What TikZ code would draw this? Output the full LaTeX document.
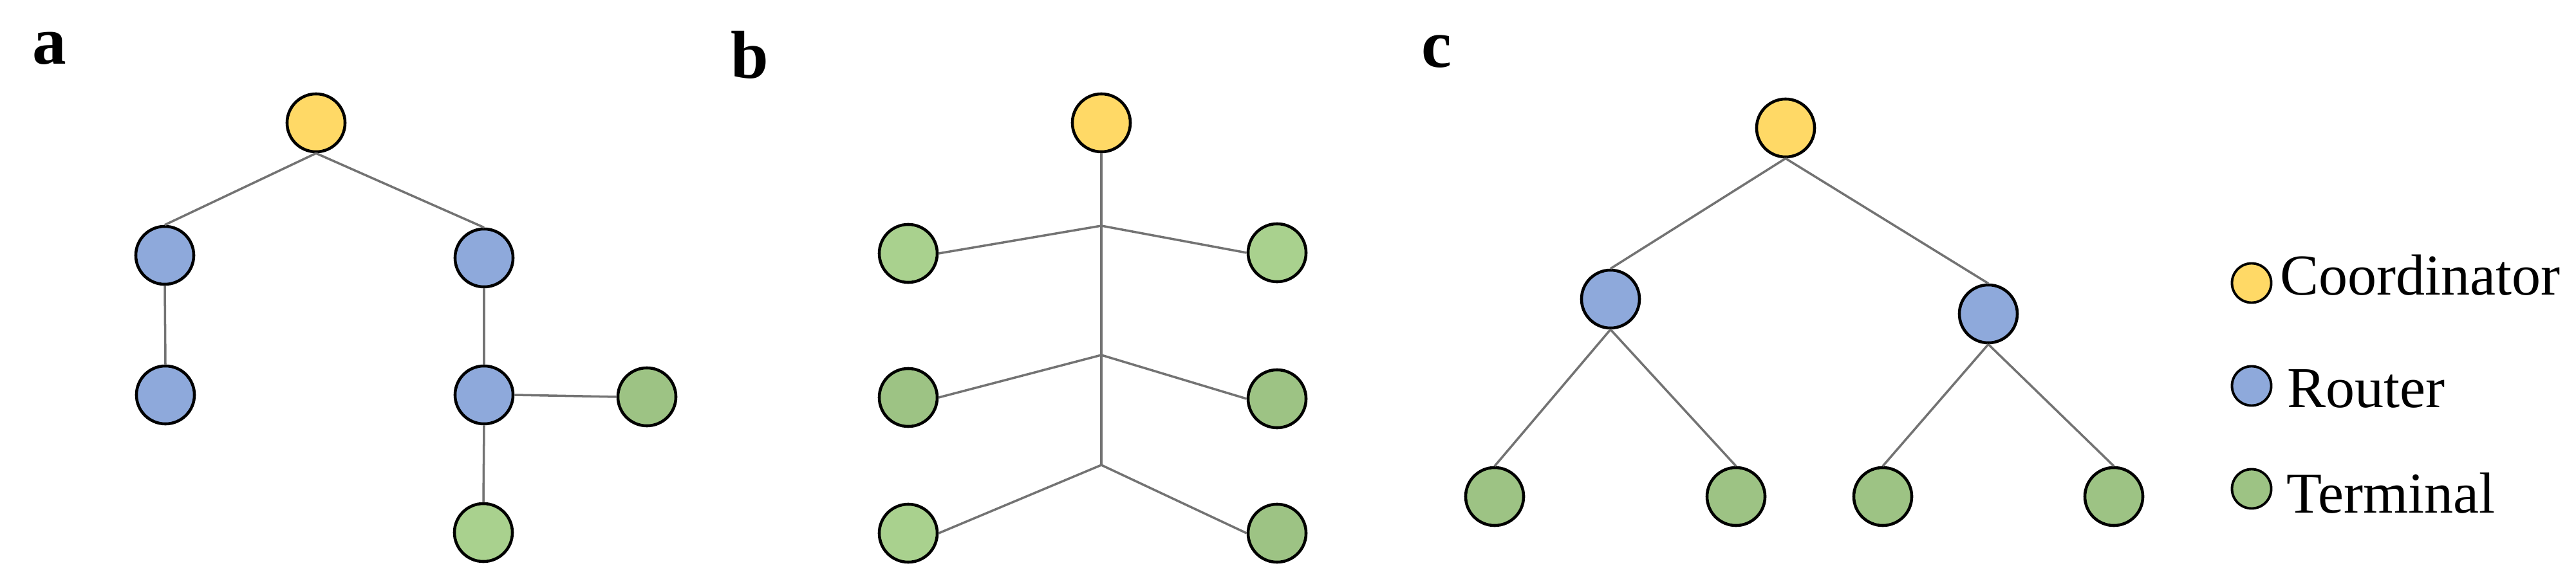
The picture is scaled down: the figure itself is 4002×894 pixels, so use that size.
\documentclass[tikz,border=0pt]{standalone}
\usepackage{fontspec}
\setmainfont{Liberation Serif}
\definecolor{coordfill}{HTML}{FFD966}
\definecolor{routerfill}{HTML}{8EA9DB}
\definecolor{termfill}{HTML}{A9D18E}
\definecolor{termdkfill}{HTML}{9DC384}

\begin{document}
\begin{tikzpicture}[
  x=0.01cm, y=-0.01cm,
  dev/.style={circle, draw=black, line width=1.3pt, minimum size=0.9cm, inner sep=0pt},
  coordinator/.style={dev, fill=coordfill},
  router/.style={dev, fill=routerfill},
  term/.style={dev, fill=termfill},
  termdk/.style={dev, fill=termdkfill},
  link/.style={draw=black!55, line width=1pt},
  tag/.style={font=\fontsize{30}{30}\selectfont\bfseries, anchor=base west, inner sep=0pt},
  key/.style={circle, draw=black, line width=1.1pt, minimum size=0.61cm, inner sep=0pt},
  keytext/.style={font=\fontsize{25.6}{28}\selectfont, anchor=base west, inner sep=0pt}
]
\useasboundingbox (0,0) rectangle (4002,894);

% (a) tree with a chain of routers
\node[tag] (la) at (50,100) {a};
\node[coordinator] (ca) at (491,191) {};
\node[router] (ra1) at (256,397) {};
\node[router] (ra2) at (257,614) {};
\node[router] (ra3) at (752,401) {};
\node[router] (ra4) at (752,614) {};
\node[termdk] (ta1) at (1005,617) {};
\node[term] (ta2) at (751,828) {};
\draw[link] (ca.south) -- (ra1.north);
\draw[link] (ca.south) -- (ra3.north);
\draw[link] (ra1.south) -- (ra2.north);
\draw[link] (ra3.south) -- (ra4.north);
\draw[link] (ra4.east) -- (ta1.west);
\draw[link] (ra4.south) -- (ta2.north);

% (b) bus: terminals hang off one trunk
\node[tag] (lb) at (1135,122) {b};
\node[coordinator] (cb) at (1711,191) {};
\coordinate (jb1) at (1711,351);
\coordinate (jb2) at (1711,552);
\coordinate (jb3) at (1711,723);
\node[term] (tb1) at (1411,394) {};
\node[term] (tb2) at (1984,393) {};
\node[termdk] (tb3) at (1411,618) {};
\node[termdk] (tb4) at (1984,620) {};
\node[term] (tb5) at (1411,829) {};
\node[termdk] (tb6) at (1984,829) {};
\draw[link] (cb.south) -- (jb3);
\draw[link] (jb1) -- (tb1.east);
\draw[link] (jb1) -- (tb2.west);
\draw[link] (jb2) -- (tb3.east);
\draw[link] (jb2) -- (tb4.west);
\draw[link] (jb3) -- (tb5.east);
\draw[link] (jb3) -- (tb6.west);

% (c) binary tree
\node[tag] (lc) at (2208,105) {c};
\node[coordinator] (cc) at (2774,199) {};
\node[router] (rc1) at (2502,465) {};
\node[router] (rc2) at (3089,488) {};
\node[termdk] (tc1) at (2322,772) {};
\node[termdk] (tc2) at (2697,772) {};
\node[termdk] (tc3) at (2925,772) {};
\node[termdk] (tc4) at (3284,772) {};
\draw[link] (cc.south) -- (rc1.north);
\draw[link] (cc.south) -- (rc2.north);
\foreach \r/\t in {rc1/tc1, rc1/tc2, rc2/tc3, rc2/tc4}
  \draw[link] (\r.south) -- (\t.north);

% Legend
\node[key, fill=coordfill] (kc) at (3498,440) {};
\node[keytext] (kct) at (3542,458) {Coordinator};
\node[key, fill=routerfill] (kr) at (3498,600) {};
\node[keytext] (krt) at (3553,633) {Router};
\node[key, fill=termdkfill] (kt) at (3498,760) {};
\node[keytext] (ktt) at (3552,797) {Terminal};
\end{tikzpicture}
\end{document}
